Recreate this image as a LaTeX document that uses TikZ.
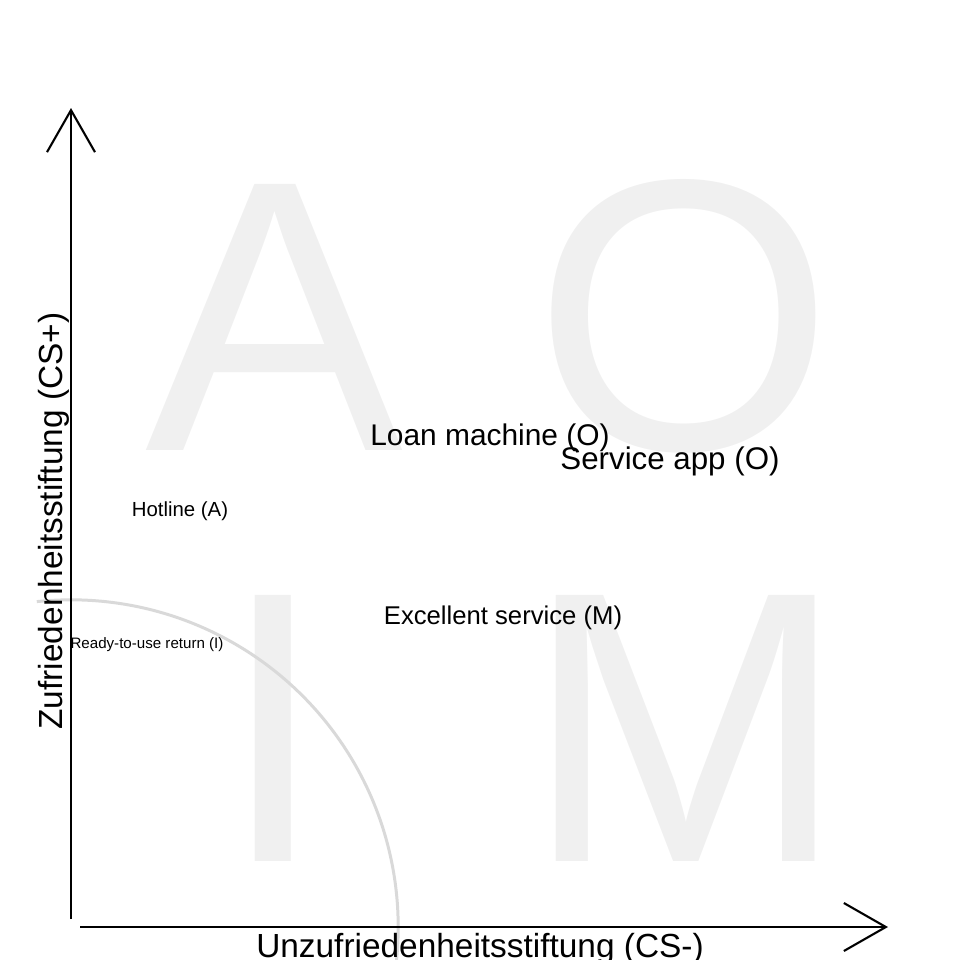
\documentclass[tikz,border=0pt]{standalone}
\usepackage{fontspec}
\setmainfont{Liberation Sans}
\usetikzlibrary{arrows.meta}

\newcommand*{\xorig}{71}
\newcommand*{\yorig}{927}
\newcommand*{\rzone}{3.27cm}

\begin{document}
\begin{tikzpicture}
[
	x=0.01cm,
	y=-0.01cm,
	quadrant/.style={text=gray!12,inner sep=0pt,anchor=base,font=\fontsize{110}{110}\selectfont},
	feature/.style={inner sep=0pt,anchor=base},
	axislabel/.style={inner sep=0pt,anchor=base,font=\fontsize{9.5}{11}\selectfont},
	axis/.style={line width=0.6pt,-{Straight Barb[length=0.42cm,width=0.48cm]}},
	zone/.style={gray!30,line width=0.85pt}
]
	\useasboundingbox (0,0) rectangle (960,960);

	% quadrant letters
	\node[quadrant] (qa) at (275,450) {A};
	\node[quadrant] (qo) at (684,449) {O};
	\node[quadrant] (qi) at (273,861) {I};
	\node[quadrant] (qm) at (686,861) {M};

	% indifference zone
	\coordinate (origin) at (\xorig,\yorig);
	\draw[zone] ([shift={(96:\rzone)}]origin) arc[start angle=96,end angle=-10,radius=\rzone];

	% axes
	\coordinate (ybase) at (\xorig,919);
	\coordinate (ytip) at (\xorig,108);
	\coordinate (xbase) at (80,\yorig);
	\coordinate (xtip) at (888,\yorig);
	\draw[axis] (ybase) -- (ytip);
	\draw[axis] (xbase) -- (xtip);

	% axis labels
	\node[axislabel] (xlabel) at (480,957) {Unzufriedenheitsstiftung (CS-)};
	\node[axislabel,rotate=90] (ylabel) at (62,521) {Zufriedenheitsstiftung (CS+)};

	% features
	\node[feature,font=\fontsize{8.5}{10}\selectfont] (loan) at (490,445) {Loan machine (O)};
	\node[feature,font=\fontsize{8.9}{10}\selectfont] (app) at (670,469) {Service app (O)};
	\node[feature,font=\fontsize{5.8}{7}\selectfont] (hotline) at (180,516) {Hotline (A)};
	\node[feature,font=\fontsize{7.3}{8}\selectfont] (service) at (503,624) {Excellent service (M)};
	\node[feature,font=\fontsize{4.3}{5}\selectfont] (ready) at (147,648) {Ready-to-use return (I)};

\end{tikzpicture}
\end{document}
